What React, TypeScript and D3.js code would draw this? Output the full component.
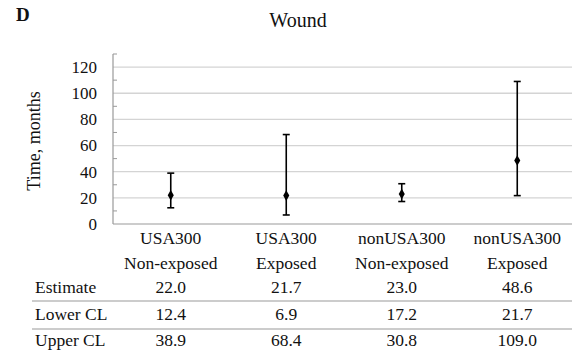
import React from "react";
import * as d3 from "d3";

const categoriesLine1 = ["USA300", "USA300", "nonUSA300", "nonUSA300"];
const categoriesLine2 = ["Non-exposed", "Exposed", "Non-exposed", "Exposed"];
const estimates = [22.0, 21.7, 23.0, 48.6];
const lowerCL = [12.4, 6.9, 17.2, 21.7];
const upperCL = [38.9, 68.4, 30.8, 109.0];
const yTicks = [0, 20, 40, 60, 80, 100, 120];
const minorTicks = [10, 30, 50, 70, 90, 110, 130];
const rowLabels = ["Estimate", "Lower CL", "Upper CL"];

const W = 572;
const H = 358;
const font = "Liberation Serif";

const T = (props: any) => (
  <text {...props} style={{ fontFamily: font, fontSize: props.fontSize, fill: "#111" }} />
);

export default function App() {
  const x0 = 113;
  const x1 = 575;
  const yTop = 54;
  const yBottom = 224;
  const x = d3.scaleBand<number>().domain(d3.range(4)).range([x0, x1]);
  const y = d3.scaleLinear().domain([0, 130]).range([yBottom, yTop]);
  const cx = (i: number) => (x(i) as number) + x.bandwidth() / 2;
  const rows = [estimates, lowerCL, upperCL];
  const rowBase = [293, 320, 346];
  const diamond = d3.symbol().type(d3.symbolDiamond).size(32)();

  return (
    <svg
      width={W}
      height={H}
      style={{ position: "absolute", left: 0, top: 0, background: "#fff", fontFamily: font }}
    >
      <T x={16} y={21} fontSize={19} fontWeight="bold">D</T>
      <T x={298} y={27} fontSize={20} textAnchor="middle">Wound</T>

      {yTicks.filter((t) => t > 0).map((t) => (
        <line key={"g" + t} x1={x0} x2={W} y1={y(t)} y2={y(t)} stroke="#d4d4d4" strokeWidth={1.3} />
      ))}
      {minorTicks.map((t) => (
        <line key={"m" + t} x1={x0} x2={x0 + 4} y1={y(t)} y2={y(t)} stroke="#999" strokeWidth={1} />
      ))}
      <line x1={x0} x2={x0} y1={yTop} y2={yBottom} stroke="#999" strokeWidth={1.2} />
      <line x1={x0} x2={W} y1={yBottom} y2={yBottom} stroke="#999" strokeWidth={1.2} />

      {yTicks.map((t) => (
        <T key={"l" + t} x={97} y={y(t)} dy="0.35em" fontSize={17} textAnchor="end">{t}</T>
      ))}
      <T
        transform={`translate(40,${141}) rotate(-90)`}
        fontSize={18}
        textAnchor="middle"
      >
        Time, months
      </T>

      {estimates.map((e, i) => (
        <g key={"e" + i} stroke="#000" strokeWidth={1.6}>
          <line x1={cx(i)} x2={cx(i)} y1={y(lowerCL[i])} y2={y(upperCL[i])} />
          <line x1={cx(i) - 3.5} x2={cx(i) + 3.5} y1={y(lowerCL[i])} y2={y(lowerCL[i])} />
          <line x1={cx(i) - 3.5} x2={cx(i) + 3.5} y1={y(upperCL[i])} y2={y(upperCL[i])} />
          <path d={diamond as string} transform={`translate(${cx(i)},${y(e)})`} fill="#000" stroke="none" />
        </g>
      ))}

      {categoriesLine1.map((c, i) => (
        <T key={"c1" + i} x={cx(i)} y={244} fontSize={17.5} textAnchor="middle">{c}</T>
      ))}
      {categoriesLine2.map((c, i) => (
        <T key={"c2" + i} x={cx(i)} y={269} fontSize={17.5} textAnchor="middle">{c}</T>
      ))}

      {rowLabels.map((r, k) => (
        <T key={"r" + k} x={35} y={rowBase[k]} fontSize={17.5}>{r}</T>
      ))}
      {rows.map((vals, k) =>
        vals.map((v, i) => (
          <T key={"v" + k + "-" + i} x={cx(i)} y={rowBase[k]} fontSize={17.5} textAnchor="middle">
            {v.toFixed(1)}
          </T>
        ))
      )}
      <line x1={32} x2={W} y1={301} y2={301} stroke="#999" strokeWidth={1.2} />
      <line x1={32} x2={W} y1={329} y2={329} stroke="#999" strokeWidth={1.2} />
    </svg>
  );
}
